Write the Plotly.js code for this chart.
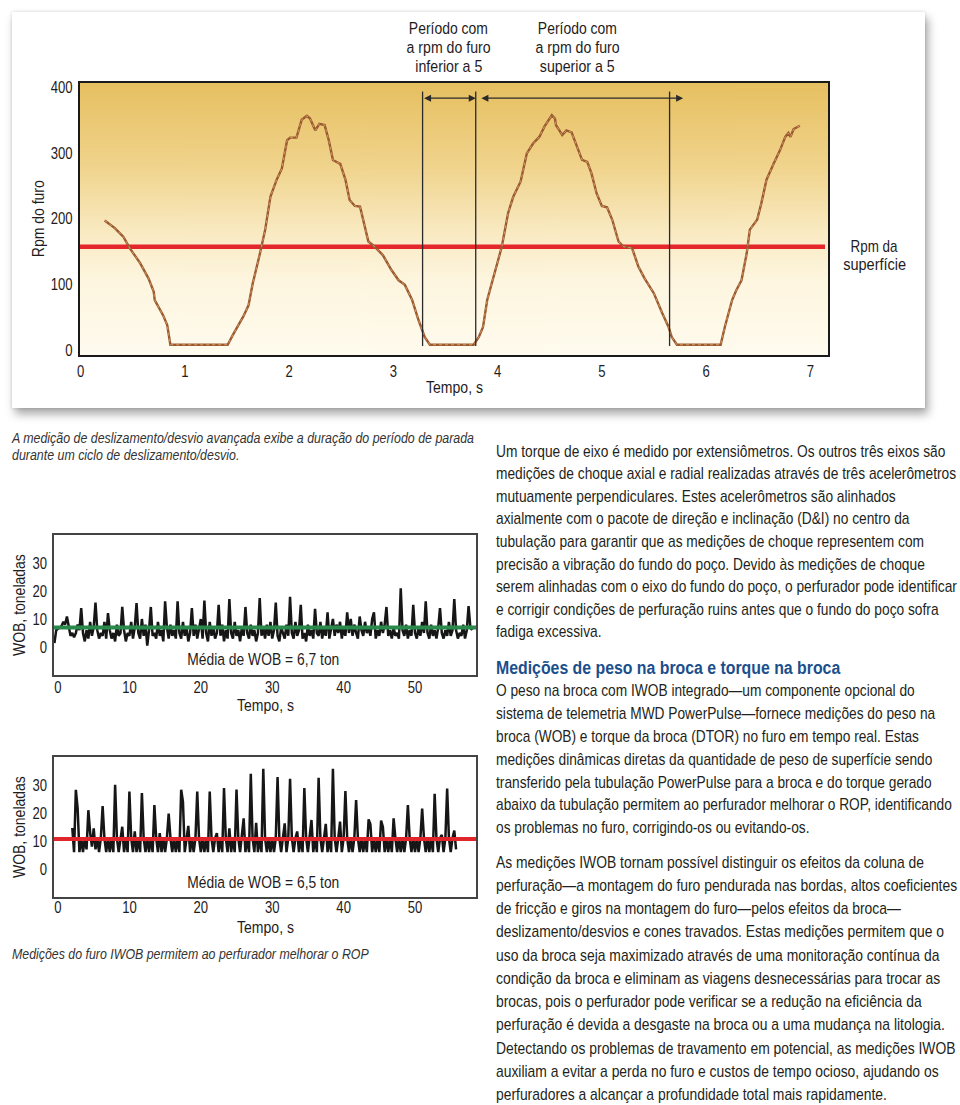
<!DOCTYPE html>
<html><head><meta charset="utf-8">
<script src="https://cdn.plot.ly/plotly-3.0.1.min.js"></script>
<style>
html,body{margin:0;padding:0;background:#fff;}
body{width:960px;height:1105px;position:relative;overflow:hidden;font-family:'Liberation Sans',Arial,sans-serif;color:#231f20;}
.abs{position:absolute;}
#card{left:12px;top:12px;width:913px;height:396px;background:#fff;box-shadow:3px 6px 9px rgba(0,0,0,0.35),0 0 3px rgba(0,0,0,0.15);}
.cap{font-style:italic;font-size:15px;line-height:17px;color:#333;white-space:nowrap;}
.para{font-size:17px;white-space:nowrap;}
.h{font-weight:bold;color:#1b4f8c;font-size:17.5px;white-space:nowrap;line-height:22px;}
.fit{transform-origin:0 0;}
</style></head>
<body>
<div id="card" class="abs"></div>
<div id="chartRpm" class="abs" style="left:0;top:0;width:960px;height:420px;"></div>
<div class="abs cap fit" data-w="462" style="left:12px;top:428.5px;">A medição de deslizamento/desvio avançada exibe a duração do período de parada<br>durante um ciclo de deslizamento/desvio.</div>
<div id="chartWob1" class="abs" style="left:0;top:520px;width:480px;height:200px;"></div>
<div id="chartWob2" class="abs" style="left:0;top:740px;width:480px;height:200px;"></div>
<div class="abs cap fit" data-w="357" style="left:12px;top:944.5px;">Medições do furo IWOB permitem ao perfurador melhorar o ROP</div>

<div class="abs para fit" data-w="461" style="left:496px;top:440.7px;line-height:22.6px;">Um torque de eixo é medido por extensiômetros. Os outros três eixos são<br>medições de choque axial e radial realizadas através de três acelerômetros<br>mutuamente perpendiculares. Estes acelerômetros são alinhados<br>axialmente com o pacote de direção e inclinação (D&amp;I) no centro da<br>tubulação para garantir que as medições de choque representem com<br>precisão a vibração do fundo do poço. Devido às medições de choque<br>serem alinhadas com o eixo do fundo do poço, o perfurador pode identificar<br>e corrigir condições de perfuração ruins antes que o fundo do poço sofra<br>fadiga excessiva.</div>
<div class="abs h fit" data-w="344" style="left:496px;top:657px;">Medições de peso na broca e torque na broca</div>
<div class="abs para fit" data-w="456" style="left:496px;top:680.4px;line-height:22.8px;">O peso na broca com IWOB integrado—um componente opcional do<br>sistema de telemetria MWD PowerPulse—fornece medições do peso na<br>broca (WOB) e torque da broca (DTOR) no furo em tempo real. Estas<br>medições dinâmicas diretas da quantidade de peso de superfície sendo<br>transferido pela tubulação PowerPulse para a broca e do torque gerado<br>abaixo da tubulação permitem ao perfurador melhorar o ROP, identificando<br>os problemas no furo, corrigindo-os ou evitando-os.</div>
<div class="abs para fit" data-w="461" style="left:496px;top:850.7px;line-height:23.25px;">As medições IWOB tornam possível distinguir os efeitos da coluna de<br>perfuração—a montagem do furo pendurada nas bordas, altos coeficientes<br>de fricção e giros na montagem do furo—pelos efeitos da broca—<br>deslizamento/desvios e cones travados. Estas medições permitem que o<br>uso da broca seja maximizado através de uma monitoração contínua da<br>condição da broca e eliminam as viagens desnecessárias para trocar as<br>brocas, pois o perfurador pode verificar se a redução na eficiência da<br>perfuração é devida a desgaste na broca ou a uma mudança na litologia.<br>Detectando os problemas de travamento em potencial, as medições IWOB<br>auxiliam a evitar a perda no furo e custos de tempo ocioso, ajudando os<br>perfuradores a alcançar a profundidade total mais rapidamente.</div>

<script>
const FONT = "'Liberation Sans', Arial, sans-serif";
const INK = '#1f1c1d';

// ---------- Top chart: downhole rpm vs time ----------
const rpmTime = [0.23,0.33,0.41,0.47,0.57,0.65,0.70,0.71,0.79,0.83,0.86,
  1.41,1.46,1.56,1.61,1.65,1.72,1.77,1.82,1.88,1.93,1.98,2.01,2.07,2.12,2.17,2.20,2.25,2.29,2.34,2.38,2.42,2.49,2.54,2.58,2.63,2.68,2.71,2.76,2.82,2.90,2.98,3.05,3.11,3.18,3.24,3.30,3.35,
  3.77,3.82,3.86,3.90,3.96,4.04,4.10,4.15,4.22,4.28,4.34,4.40,4.45,4.50,4.52,4.55,4.56,4.62,4.66,4.71,4.76,4.81,4.86,4.90,4.95,5.00,5.05,5.10,5.16,5.21,5.29,5.35,5.41,5.50,5.58,5.64,5.67,5.72,
  6.14,6.18,6.25,6.29,6.34,6.39,6.42,6.49,6.53,6.58,6.65,6.71,6.76,6.79,6.81,6.84,6.90];
const rpmValue = [197,185,172,155,132,109,89,76,53,38,8,
  8,23,51,68,101,147,183,233,259,276,319,323,323,350,356,352,334,344,342,319,289,283,259,228,219,218,198,165,157,144,122,106,99,76,46,20,8,
  8,20,35,76,111,157,208,233,256,299,314,324,340,352,357,352,342,327,334,331,309,289,286,269,238,219,217,198,165,157,155,127,109,86,56,35,20,8,
  8,35,76,91,106,147,183,198,223,259,284,304,324,330,324,336,341];
const surfaceRpm = 157;
const periodBounds = [3.28, 3.79, 5.65];
const boundRange = [6, 393];
const periodArrows = [[3.28, 3.79], [3.83, 5.78]];
const arrowLevel = 383;
const periodLabelLines = [['Período com', 'a rpm do furo', 'inferior a 5'], ['Período com', 'a rpm do furo', 'superior a 5']];
const periodLabelX = [3.53, 4.77];
const surfaceLabelLines = ['Rpm da', 'superfície'];
const rpmTicks = [0, 100, 200, 300, 400];
const rpmTimeTicks = [0, 1, 2, 3, 4, 5, 6, 7];

// ---------- WOB charts ----------
const wobTimeTicks = [0, 10, 20, 30, 40, 50];
const wobTicks = [0, 10, 20, 30];
const wobStep = 0.25;
const wob1Start = -0.5;
const wob1 = [
  1.4,6,6.5,7,7.5,9,8,10.9,
  8,4,5,3.5,5,8,6,13.9,
  5,2,6,3,9,4,7,15.9,
  6,3,5,4,9,3,12.1,6,
  3,5,2,8,4,5,14.3,6,
  2,5,4,9,3,7,15.7,5,
  3,10,4,8,0.5,6,14.3,4,
  5,3,9,4,6,2,16.3,7,
  3,8,4,6,3,16.3,5,3,
  9,4,7,2,5,13.9,4,8,
  3,6,10,3,16.6,5,2,9,
  4,7,3,5,15.1,4,8,2,
  6,3,17.1,5,3,9,4,6,
  2,7,4,14.3,5,3,8,4,
  6,2,5,17.5,4,7,3,8,
  4,9,3,6,15.9,4,2,7,
  5,3,8,4,17.9,5,3,9,
  4,6,15.1,3,5,2,8,4,
  6,3,13.6,5,4,9,3,7,
  4,12.4,3,6,10,4,8,5,
  9,3,7,4,12.4,5,10,4,
  8,5,3,10.9,6,4,9,5,
  7,4,10,12.4,3,6,4,9,
  5,8,14.3,4,6,3,7,4,
  5,3,21,6,4,8,3,6,
  4,15.1,5,3,7,4,9,5,
  16.3,5,3,8,4,6,3,7,
  13.9,5,3,6,4,9,4,6,
  17.1,6,3,5,4,8,3,6,
  14.6,7,6];
const wob1Mean = 7.0;
const wob1Label = 'Média de WOB = 6,7 ton';

const wob2Start = 2.0;
const wob2 = [
  14.7,6,28.3,21.7,6,11,6,11,
  7,21,13,8,14.5,7,11,6,
  11,22.5,11,6,11,6,11,6,
  30.1,11,6,11,15.1,6,11,6,
  27.7,11,6,13.4,6,11,6,27.1,
  11,6,11,6,11,6,22.8,11,
  6,12.8,6,11,6,11,19.8,11,
  6,11,6,11,6,28.3,24,6,
  11,15.4,6,11,6,11,27.7,11,
  6,11,6,11,6,27.7,11,6,
  11,12.8,6,11,6,28.9,11,6,
  14.5,6,11,6,28.4,11,6,11,
  18.1,6,11,6,34,11,6,16.5,
  6,11,6,35.8,11,6,11,6,
  11,6,11,32.8,11,6,11,16.3,
  6,11,32.2,11,6,11,13.4,6,
  11,6,28.9,11,6,11,17.5,6,
  11,6,32.6,11,6,11,16.1,6,
  11,6,35.8,11,6,11,16.9,6,
  11,27.8,11,6,11,6,11,24.6,
  11,6,11,6,11,6,17.7,16,
  6,11,6,11,6,17.3,15,6,
  11,6,11,6,18.1,11,6,11,
  6,11,6,11,22.8,11,6,11,
  6,11,6,11,21.6,11,6,11,
  6,11,6,26.9,11,6,11,12.2,
  6,11,28.7,11,6,11,13.7,7];
const wob2Mean = 10.7;
const wob2Label = 'Média de WOB = 6,5 ton';

// target rendered widths (px) of the condensed lettering
const textWidths = {
  'Tempo, s': 57, 'Rpm do furo': 77, 'WOB, toneladas': 102,
  'Média de WOB = 6,7 ton': 152, 'Média de WOB = 6,5 ton': 152,
  'Período com': 79, 'a rpm do furo': 84, 'inferior a 5': 67, 'superior a 5': 75,
  'Rpm da': 47, 'superfície': 63
};
const tickScale = 0.77;

function condense(gd) {
  gd.querySelectorAll('text').forEach(t => {
    const txt = t.textContent.trim();
    if (!txt) return;
    let s = tickScale;
    if (textWidths[txt]) {
      const w = t.getComputedTextLength();
      if (w > 0) s = textWidths[txt] / w;
    }
    const x = parseFloat(t.getAttribute('x')) || 0;
    const y = parseFloat(t.getAttribute('y')) || 0;
    const tr = t.getAttribute('transform') || '';
    t.setAttribute('transform', tr + ' translate(' + x + ',' + y + ') scale(' + s + ',1) translate(' + (-x) + ',' + (-y) + ')');
  });
}

function fitBlocks() {
  document.querySelectorAll('.fit').forEach(el => {
    const w = el.scrollWidth;
    const target = parseFloat(el.getAttribute('data-w'));
    if (w > 0) el.style.transform = 'scaleX(' + (target / w) + ')';
  });
}

function gradientURL() {
  const c = document.createElement('canvas');
  c.width = 4; c.height = 272;
  const g = c.getContext('2d');
  const gr = g.createLinearGradient(0, 0, 0, 272);
  gr.addColorStop(0, '#e6bf60');
  gr.addColorStop(0.3, '#f0d38b');
  gr.addColorStop(0.55, '#f9eac2');
  gr.addColorStop(0.72, '#fdf5de');
  gr.addColorStop(1, '#fffbee');
  g.fillStyle = gr; g.fillRect(0, 0, 4, 272);
  return c.toDataURL();
}

function axisBase(extra) {
  return Object.assign({
    showgrid: false, zeroline: false, showline: true, mirror: true,
    ticks: 'outside', ticklen: 2, tickcolor: 'rgba(0,0,0,0)',
    tickfont: {family: FONT, size: 17, color: INK}, fixedrange: true
  }, extra);
}

const cfg = {staticPlot: true, displayModeBar: false};

// ----- top chart -----
const rpmShapes = periodBounds.map(b => ({
  type: 'line', xref: 'x', yref: 'y', x0: b, x1: b, y0: boundRange[0], y1: boundRange[1],
  line: {color: '#2a2a2a', width: 1.3}
}));
rpmShapes.push({type: 'line', xref: 'paper', yref: 'y', x0: 0, x1: 0.996, y0: surfaceRpm, y1: surfaceRpm,
  line: {color: '#e5262b', width: 4.5}, layer: 'below'});

const lblFont = {family: FONT, size: 16, color: INK};
const rpmAnn = [];
periodArrows.forEach(a => rpmAnn.push({
  x: a[1], y: arrowLevel, ax: a[0], ay: arrowLevel, axref: 'x', ayref: 'y', xref: 'x', yref: 'y',
  text: '', showarrow: true, arrowhead: 2, arrowside: 'end+start', arrowsize: 1, arrowwidth: 1.4,
  arrowcolor: '#2a2a2a', standoff: 0, startstandoff: 0
}));
const lineShifts = [55, 36, 17];
periodLabelLines.forEach((lines, i) => lines.forEach((t, j) => rpmAnn.push({
  x: periodLabelX[i], xref: 'x', y: 1, yref: 'paper', yshift: lineShifts[j], yanchor: 'middle', xanchor: 'center',
  text: t, showarrow: false, font: lblFont
})));
surfaceLabelLines.forEach((t, j) => rpmAnn.push({
  x: 1, xref: 'paper', xshift: 46, y: surfaceRpm, yref: 'y', yshift: -17.5 * j, yanchor: 'middle', xanchor: 'center',
  text: t, showarrow: false, font: lblFont
}));
rpmAnn.push({x: 0, xref: 'paper', xshift: -41.5, y: 0.5, yref: 'paper', textangle: -90, xanchor: 'center', yanchor: 'middle',
  text: 'Rpm do furo', showarrow: false, font: {family: FONT, size: 17, color: INK}});
rpmAnn.push({x: 0.5, xref: 'paper', y: 0, yref: 'paper', yshift: -32, xanchor: 'center', yanchor: 'middle',
  text: 'Tempo, s', showarrow: false, font: {family: FONT, size: 17, color: INK}});

Plotly.newPlot('chartRpm', [
  {x: rpmTime, y: rpmValue, type: 'scatter', mode: 'lines', line: {color: '#9a5a30', width: 2.4}, hoverinfo: 'skip'},
  {x: rpmTime, y: rpmValue, type: 'scatter', mode: 'lines', line: {color: '#d79a66', width: 1, dash: 'dot'}, hoverinfo: 'skip'}
], {
  width: 960, height: 420, margin: {l: 80, r: 132, t: 83, b: 65},
  paper_bgcolor: 'rgba(0,0,0,0)', plot_bgcolor: 'rgba(0,0,0,0)', showlegend: false,
  font: {family: FONT, size: 16, color: INK},
  xaxis: axisBase({range: [-0.007, 7.17], tickvals: rpmTimeTicks, linecolor: '#1a1a1a', linewidth: 2, ticklen: 0}),
  yaxis: axisBase({range: [-7.6, 406], tickvals: rpmTicks, linecolor: '#1a1a1a', linewidth: 2, ticklen: 2}),
  images: [{source: gradientURL(), xref: 'paper', yref: 'paper', x: 0, y: 1, sizex: 1, sizey: 1,
    sizing: 'stretch', xanchor: 'left', yanchor: 'top', layer: 'below'}],
  shapes: rpmShapes, annotations: rpmAnn
}, cfg).then(condense);

// ----- WOB charts -----
function wobChart(id, values, start, meanVal, meanColor, label, labelY, margin, standoff) {
  return Plotly.newPlot(id, [
    {y: values, x0: start, dx: wobStep, type: 'scatter', mode: 'lines',
     line: {color: '#161616', width: 2.5}, hoverinfo: 'skip'}
  ], {
    width: 480, height: 200, margin: margin,
    paper_bgcolor: 'rgba(0,0,0,0)', plot_bgcolor: '#ffffff', showlegend: false,
    font: {family: FONT, size: 16, color: INK},
    xaxis: axisBase({range: [-0.56, 58.54], tickvals: wobTimeTicks, linecolor: '#444', linewidth: 1.6,
      ticklen: 0, ticklabelstandoff: standoff}),
    yaxis: axisBase({range: [-10, 40], tickvals: wobTicks, linecolor: '#444', linewidth: 1.6, ticklen: 2}),
    shapes: [{type: 'line', xref: 'paper', yref: 'y', x0: 0, x1: 1, y0: meanVal, y1: meanVal,
      line: {color: meanColor, width: 4}}],
    annotations: [
      {x: 0.497, xref: 'paper', y: labelY, yref: 'y', xanchor: 'center', yanchor: 'middle',
       text: label, showarrow: false, font: {family: FONT, size: 17, color: INK}},
      {x: 0, xref: 'paper', xshift: -35, y: 0.5, yref: 'paper', textangle: -90, xanchor: 'center', yanchor: 'middle',
       text: 'WOB, toneladas', showarrow: false, font: {family: FONT, size: 17, color: INK}},
      {x: 0.5, xref: 'paper', y: 0, yref: 'paper', yshift: -30.5, xanchor: 'center', yanchor: 'middle',
       text: 'Tempo, s', showarrow: false, font: {family: FONT, size: 17, color: INK}}
    ]
  }, cfg).then(condense);
}
wobChart('chartWob1', wob1, wob1Start, wob1Mean, '#2a8a4c', wob1Label, -4.5, {l: 54, r: 4, t: 15, b: 45}, -4);
wobChart('chartWob2', wob2, wob2Start, wob2Mean, '#e0262b', wob2Label, -4.8, {l: 54, r: 4, t: 17, b: 43}, -6);

fitBlocks();
</script>
</body></html>
